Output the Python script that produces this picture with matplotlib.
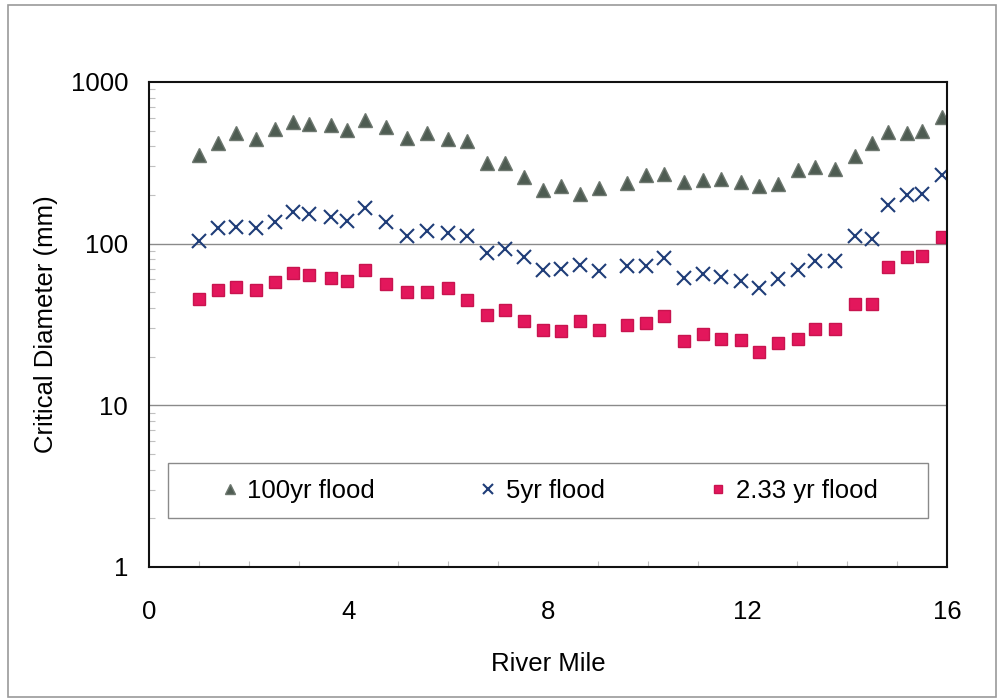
import numpy as np
import matplotlib
matplotlib.use('Agg')
import matplotlib.pyplot as plt
from matplotlib.patches import Rectangle
from matplotlib.ticker import LogLocator, MultipleLocator, FixedLocator

plt.rcParams['font.family'] = ['Liberation Sans', 'DejaVu Sans']

# river mile of each cross section
river_mile = [1.0, 1.39, 1.75, 2.14, 2.53, 2.89, 3.21, 3.65, 3.96, 4.34,
              4.76, 5.18, 5.58, 5.99, 6.38, 6.77, 7.13, 7.52, 7.90, 8.26,
              8.64, 9.03, 9.58, 9.96, 10.32, 10.72, 11.10, 11.47, 11.86, 12.24,
              12.61, 13.01, 13.36, 13.75, 14.15, 14.50, 14.82, 15.20, 15.50, 15.90]

# critical diameter (mm) per flood
d_100yr = [352, 416, 480, 442, 515, 565, 552, 540, 502, 585,
           527, 450, 480, 446, 431, 313, 313, 258, 216, 226,
           202, 222, 237, 265, 271, 241, 249, 252, 241, 226,
           235, 287, 298, 291, 347, 416, 490, 480, 497, 607]
d_5yr = [104, 124, 127, 124, 136, 157, 153, 146, 138, 165,
         136, 112, 120, 116, 111, 87, 93, 83, 69, 70,
         74, 68, 73, 73, 81, 61, 65, 62, 59, 53,
         60, 69, 78, 78, 111, 107, 174, 199, 204, 265]
d_233yr = [45.7, 51.4, 53.8, 51.4, 57.8, 65.8, 63.7, 61.6, 58.5, 69,
           56.5, 50.2, 50.2, 53.1, 45, 36.4, 39.1, 33.2, 29.4, 28.8,
           33, 29.4, 31.2, 32.3, 35.5, 25, 27.7, 25.8, 25.4, 21.3,
           24.3, 25.8, 29.8, 29.8, 42.6, 42.6, 71.6, 82.6, 83.8, 110]

series_labels = ['100yr flood', '5yr flood', '2.33 yr flood']
x_ticks = [0, 4, 8, 12, 16]

fig = plt.figure(figsize=(10, 7), dpi=100)
ax = fig.add_axes([0.149, 0.19, 0.798, 0.693])

# outer chart frame
fig.patches.append(Rectangle((0.008, 0.004), 0.988, 0.989, transform=fig.transFigure,
                             fill=False, edgecolor='#9a9a9a', linewidth=1.2))

ax.plot(river_mile, d_100yr, linestyle='none', marker='^', markersize=10.5,
        color='#4e5c52', markeredgecolor='#6d776f', label=series_labels[0])
ax.plot(river_mile, d_5yr, linestyle='none', marker='x', markersize=10,
        markeredgewidth=1.5, color='#1f3d78', label=series_labels[1])
ax.plot(river_mile, d_233yr, linestyle='none', marker='s', markersize=9,
        color='#e3175c', markeredgecolor='#c8144f', label=series_labels[2])

ax.set_yscale('log')
ax.set_ylim(1, 1000)
ax.set_xlim(0, 16)
ax.xaxis.set_major_locator(FixedLocator(x_ticks))
ax.xaxis.set_minor_locator(MultipleLocator(1))
ax.yaxis.set_major_locator(LogLocator(base=10))
ax.yaxis.set_minor_locator(LogLocator(base=10, subs=np.arange(2, 10)))
ax.yaxis.set_major_formatter(plt.FuncFormatter(lambda v, p: '{:g}'.format(v)))
ax.yaxis.set_minor_formatter(plt.NullFormatter())

for y in [10, 100]:
    ax.axhline(y, color='#8a8a8a', linewidth=1.0, zorder=0)

ax.tick_params(which='major', length=0, labelsize=18.5)
ax.tick_params(axis='x', which='major', pad=24)
ax.tick_params(axis='y', which='major', pad=15)
ax.tick_params(which='minor', direction='in', length=4, color='#c0c0c0', width=0.8)

for s in ax.spines.values():
    s.set_linewidth(1.5)
    s.set_color('#111111')

ax.set_xlabel('River Mile', fontsize=18.5, labelpad=20)
ax.set_ylabel('Critical Diameter (mm)', fontsize=18.5, labelpad=9)

# legend box drawn separately so entries can sit centred inside it
ax.add_patch(Rectangle((0.024, 0.101), 0.952, 0.113, transform=ax.transAxes,
                       facecolor='white', edgecolor='#8a8a8a', linewidth=1.0, zorder=4))
leg = ax.legend(loc='center', ncol=3, bbox_to_anchor=(0.5025, 0.1575),
                fontsize=18.5, frameon=False, markerscale=0.65,
                handlelength=0.6, handletextpad=0.4, columnspacing=4.1)
leg.set_zorder(5)

plt.savefig('out.png', dpi=100, facecolor='white')
